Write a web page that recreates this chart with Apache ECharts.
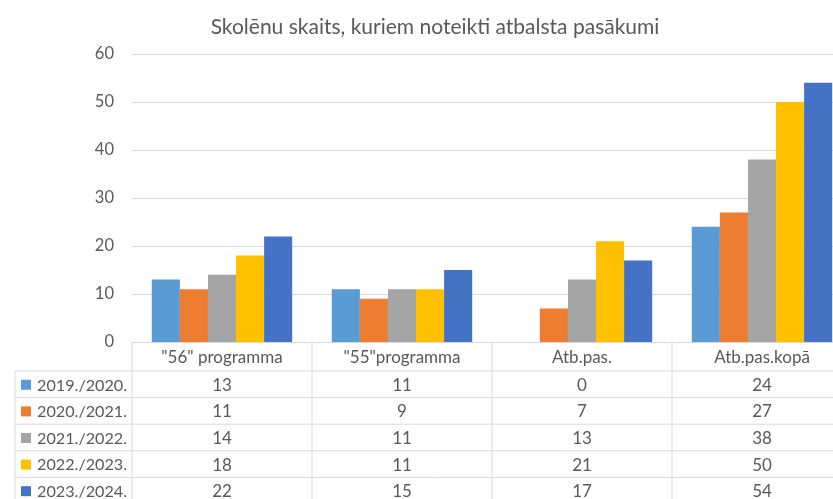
<!DOCTYPE html>
<html>
<head>
<meta charset="utf-8">
<script src="https://cdn.jsdelivr.net/npm/echarts@6/dist/echarts.min.js"></script>
<style>
  html, body { margin: 0; padding: 0; background: #fff; overflow: hidden; }
  #chart { width: 870px; height: 499px; }
</style>
</head>
<body>
<div id="chart"></div>
<script>
const categories = ['"56" programma', '"55"programma', 'Atb.pas.', 'Atb.pas.kopā'];
const years = ['2019./2020.', '2020./2021.', '2021./2022.', '2022./2023.', '2023./2024.'];
const v2019 = [13, 11, 0, 24];
const v2020 = [11, 9, 7, 27];
const v2021 = [14, 11, 13, 38];
const v2022 = [18, 11, 21, 50];
const v2023 = [22, 15, 17, 54];
const yTicks = [0, 10, 20, 30, 40, 50, 60];

const values = [v2019, v2020, v2021, v2022, v2023];
const colors = ['#5B9BD5', '#ED7D31', '#A5A5A5', '#FFC000', '#4472C4'];
const font = 'Lato, "Open Sans", sans-serif';
const textColor = '#595959';
const lineColor = '#D9D9D9';

const gridLeft = 132, gridTop = 54, gridHeight = 288, gridWidth = 720;
const headerBottom = 371, rowH = 26.6, tableLeft = 15;

const chart = echarts.init(document.getElementById('chart'));

const option = {
    animation: false,
    title: {
        text: 'Skolēnu skaits, kuriem noteikti atbalsta pasākumi',
        left: 430, top: 12, textAlign: 'center',
        textStyle: { fontFamily: font, fontSize: 21, fontWeight: 'normal', color: textColor }
    },
    grid: { left: gridLeft, top: gridTop, height: gridHeight, width: gridWidth },
    xAxis: {
        type: 'category',
        data: categories,
        axisLine: { lineStyle: { color: lineColor } },
        axisTick: { show: false },
        axisLabel: { show: false }
    },
    yAxis: {
        type: 'value',
        min: yTicks[0], max: yTicks[yTicks.length - 1], interval: 10,
        axisLine: { show: false },
        axisTick: { show: false },
        axisLabel: { fontFamily: font, fontSize: 16.5, color: textColor, margin: 18 },
        splitLine: { lineStyle: { color: lineColor } }
    },
    series: years.map((y, i) => ({
        name: y,
        type: 'bar',
        data: values[i],
        barGap: '0%',
        barCategoryGap: '22%',
        itemStyle: { color: colors[i] }
    }))
};
chart.setOption(option);

// data table under the plot
const step = gridWidth / categories.length;
const bottom = 499;
const cellFont = '17px ' + font;
const g = [];
const line = (x1, y1, x2, y2) => g.push({
    type: 'line', shape: { x1, y1, x2, y2 },
    style: { stroke: lineColor, lineWidth: 1 }, silent: true
});
for (let i = 0; i <= categories.length; i++) {
    const x = gridLeft + i * step;
    line(x, gridTop + gridHeight, x, bottom);
}
line(tableLeft, headerBottom, tableLeft, bottom);
for (let r = 0; r < years.length; r++) {
    const y = headerBottom + r * rowH;
    line(tableLeft, y, gridLeft + gridWidth, y);
}
categories.forEach((c, i) => {
    const cx = chart.convertToPixel({ xAxisIndex: 0 }, c);
    g.push({
        type: 'text', x: cx, y: (gridTop + gridHeight + headerBottom) / 2 + 1,
        style: { text: c, font: cellFont, fill: textColor, align: 'center', verticalAlign: 'middle' }
    });
    years.forEach((yr, r) => {
        g.push({
            type: 'text', x: cx, y: headerBottom + (r + 0.5) * rowH + 1,
            style: { text: String(values[r][i]), font: cellFont, fill: textColor, align: 'center', verticalAlign: 'middle' }
        });
    });
});
years.forEach((yr, r) => {
    const cy = headerBottom + (r + 0.5) * rowH;
    g.push({
        type: 'rect', shape: { x: 21, y: cy - 4.5, width: 10, height: 10 },
        style: { fill: colors[r] }
    });
    g.push({
        type: 'text', x: 37, y: cy + 1,
        style: { text: yr, font: '16.2px ' + font, fill: textColor, align: 'left', verticalAlign: 'middle' }
    });
});
chart.setOption({ graphic: g });
</script>
</body>
</html>
